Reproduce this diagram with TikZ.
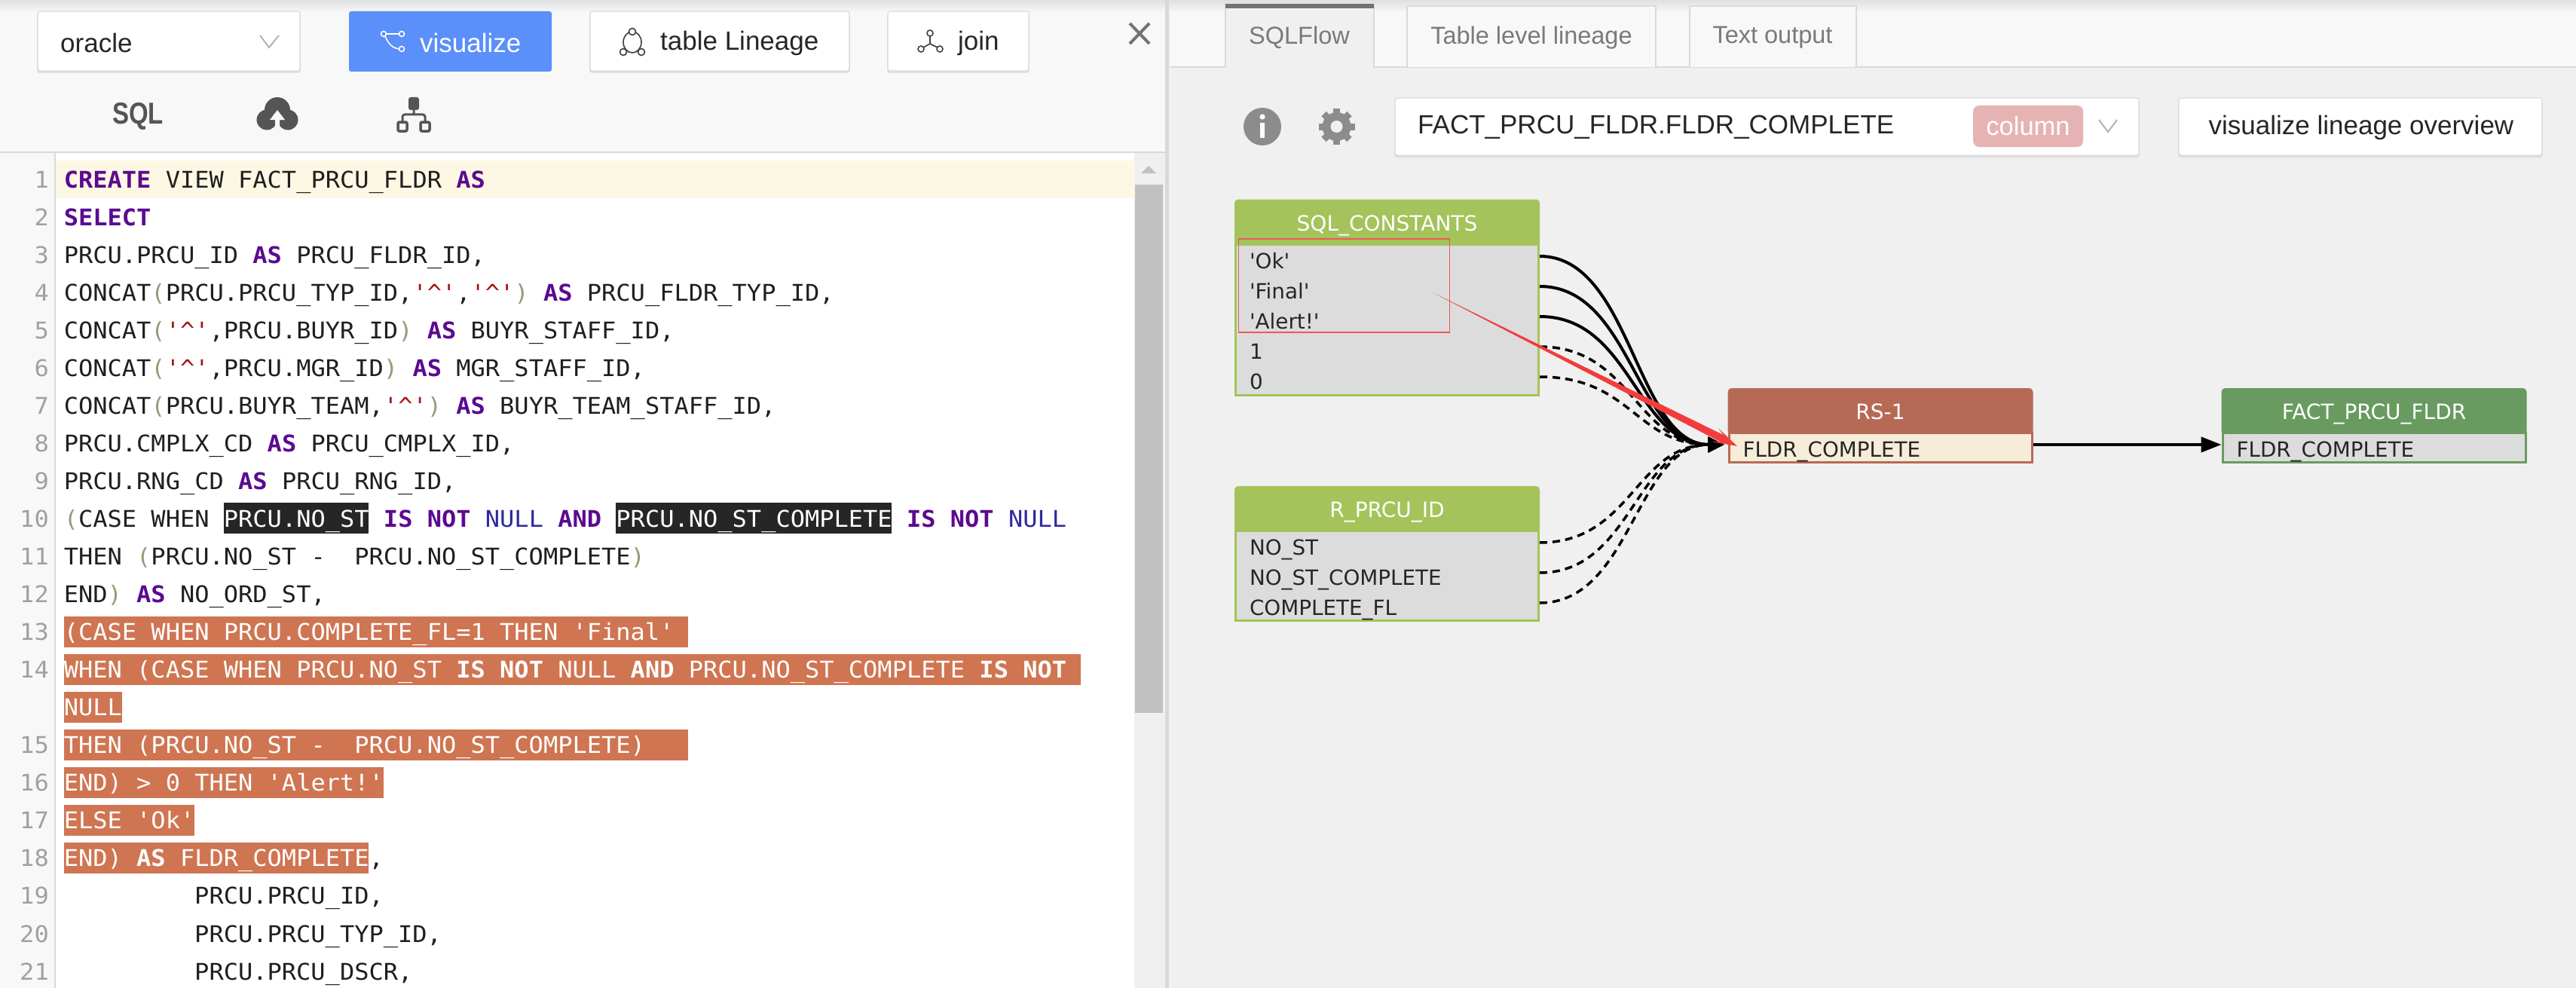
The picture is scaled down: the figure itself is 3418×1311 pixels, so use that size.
\documentclass[tikz,border=0pt]{standalone}
\usepackage{fontspec}
\setmainfont{Liberation Sans}
\newfontfamily\codef[FakeStretch=1.05]{DejaVu Sans Mono}
\newfontfamily\tblf{DejaVu Sans}
\usetikzlibrary{arrows.meta,calc}
\definecolor{panelL}{HTML}{F8F8F8}
\definecolor{panelR}{HTML}{F0F0F0}
\definecolor{rule}{HTML}{D9D9D9}
\definecolor{btnblue}{HTML}{5B8FF9}
\definecolor{iconk}{HTML}{555555}
\definecolor{lineone}{HTML}{FDF8E4}
\definecolor{thumb}{HTML}{C1C1C1}
\definecolor{orangehl}{HTML}{CF7552}
\definecolor{darkhl}{HTML}{262626}
\definecolor{ckey}{HTML}{5B0A91}
\definecolor{cnull}{HTML}{2E2A9E}
\definecolor{cparen}{HTML}{9A9A78}
\definecolor{cstring}{HTML}{A31515}
\definecolor{lnum}{HTML}{A0A0A0}
\definecolor{greenA}{HTML}{A4C35A}
\definecolor{greenB}{HTML}{699A60}
\definecolor{brownA}{HTML}{B66A55}
\definecolor{bodyg}{HTML}{DCDCDC}
\definecolor{rowcream}{HTML}{F6ECD8}
\definecolor{redmark}{HTML}{F23D3D}
\definecolor{redbox}{HTML}{E85A5A}
\definecolor{badge}{HTML}{E6B3B3}
\newcommand{\ckw}[1]{{\bfseries\color{ckey}#1}}
\newcommand{\cwb}[1]{{\bfseries #1}}
\newcommand{\cnul}{{\color{cnull}NULL}}
\newcommand{\cop}{{\color{cparen}(}}
\newcommand{\ccl}{{\color{cparen})}}
\newcommand{\cstr}{{\color{cstring}'\textasciicircum'}}
\newcommand{\rowy}[1]{(238+50.05*(#1-1))}
\newcommand{\colx}[1]{(84.6+19.27*#1)}
\newcommand{\codeln}[4][]{\node[codetext,#1] (code#2) at ({\colx{#3}},{\rowy{#2}+11}) {#4};}
\newcommand{\lineno}[2]{\node[numtext] (num#1) at (65,{\rowy{#1}+11}) {#2};}
\newcommand{\hlbar}[4]{\fill[#4] ({\colx{#2}},{\rowy{#1}-21}) rectangle ({\colx{#3}},{\rowy{#1}+20});}
\tikzset{
  btn/.style={draw=rule,line width=1.2pt,fill=white,rounded corners=3pt,outer sep=0pt,inner sep=0pt,
    preaction={draw=rule,line width=1.5pt,transform canvas={yshift=-2pt}}},
  uitext/.style={font=\fontsize{35}{40}\selectfont,text=black!85,inner sep=0pt,anchor=west},
  tabtext/.style={font=\fontsize{32.5}{38}\selectfont,text=black!52,inner sep=0pt},
  tabbox/.style={draw=rule,line width=1.2pt,fill=panelL},
  codetext/.style={font=\codef\fontsize{30.5}{36}\selectfont,text=black!88,inner sep=0pt,anchor=base west},
  numtext/.style={font=\codef\fontsize{30.5}{36}\selectfont,text=lnum,inner sep=0pt,anchor=base east},
  whitecode/.style={text=white},
  tblhead/.style={rounded corners=5pt,text=white,font=\tblf\fontsize{28}{32}\selectfont,
    minimum width=405pt,inner sep=0pt,outer sep=0pt,text height=26pt,text depth=6pt},
  tblbody/.style={line width=3pt,inner sep=0pt,outer sep=0pt,minimum width=402pt},
  rowtext/.style={font=\tblf\fontsize{27.8}{32}\selectfont,text=black!85,text width=365pt,
    inner xsep=20pt,inner ysep=0pt,outer sep=0pt,align=left,text height=36pt,text depth=3pt},
  solidflow/.style={draw=black,line width=4pt,-{Triangle[length=21pt,width=20pt]},shorten >=5pt,
    to path={.. controls ($(\tikztostart)+(122,0)$) and ($(\tikztotarget)+(-122,0)$) .. (\tikztotarget) \tikztonodes}},
  dashflow/.style={solidflow,line width=3.5pt,dash pattern=on 10pt off 7pt},
  chev/.style={draw=black!30,line width=2pt},
  iconline/.style={draw=black!75,line width=1.6pt}
}
\begin{document}
\begin{tikzpicture}[x=1pt,y=-1pt]
\useasboundingbox (0,0) rectangle (3418,1311);
% panels
\fill[panelL] (0,0) rectangle (1548,202);
\fill[panelR] (1548,0) rectangle (3418,1311);
\fill[panelL] (1552,0) rectangle (3418,89);
\shade[top color=black!12,bottom color=panelL] (0,0) rectangle (3418,16);
\fill[white] (74,203) rectangle (1505,1311);
\fill[panelL] (0,203) rectangle (73,1311);
\draw[rule,line width=1.5pt] (73,203) -- (73,1311);
\draw[rule,line width=2.5pt] (0,202) -- (1548,202);
\fill[rule] (1546,0) rectangle (1551,1311);
\fill[lineone] (74,213) rectangle (1505,263);
% scrollbar
\fill[panelR] (1505,203) rectangle (1546,1311);
\fill[thumb] (1506,245) rectangle (1543,946);
\fill[thumb] (1514,230) -- (1524,220) -- (1534,230) -- cycle;
% toolbar, left
\node[btn,minimum width=348pt,minimum height=79pt] (bOracle) at (224,54.5) {};
\node[uitext] (tOracle) at (80,57) {oracle};
\draw[chev] (345,47) -- (357,63) -- (370,47);
\node[rounded corners=3pt,fill=btnblue,minimum width=269pt,minimum height=80pt,inner sep=0pt] (bViz) at (597.5,55) {};
\node[uitext,text=white] (tViz) at (557,57) {visualize};
\draw[white,line width=1.6pt] (509,45) circle (3.5) (533,45) circle (3.5) (533,65) circle (3.5)
  (512.5,45) -- (529.5,45) (511,48) .. controls (516,60) and (522,64) .. (529.5,65);
\node[btn,minimum width=344pt,minimum height=79pt] (bTable) at (955,54.5) {};
\node[uitext] (tTable) at (876,57) {table Lineage};
\draw[iconline] (839,56) ellipse (12 and 14);
\fill[white] (839,42) circle (4.5) (827,69) circle (4.5) (851,69) circle (4.5);
\draw[iconline] (839,42) circle (4.5) (827,69) circle (4.5) (851,69) circle (4.5);
\node[btn,minimum width=187pt,minimum height=79pt] (bJoin) at (1271.5,54.5) {};
\node[uitext] (tJoin) at (1271,57) {join};
\draw[iconline] (1234,44) circle (4) (1222,65) circle (4) (1247,65) circle (4)
  (1234,48) -- (1234,58) -- (1225,63) (1234,58) -- (1244,63);
\draw[black!55,line width=4pt] (1499,31) -- (1525,58) (1525,31) -- (1499,58);
\node[font=\bfseries\fontsize{33}{36}\selectfont,text=iconk,inner sep=0pt,transform shape,yscale=1.22] (tSql) at (183,154) {SQL};
% cloud upload
\fill[iconk] (368,146) circle (17) (354,159) circle (13.5) (382,159) circle (13.5);
\fill[panelL] (368,146) -- (378,159) -- (371,159) -- (371,172.5) -- (365,172.5) -- (365,159) -- (358,159) -- cycle;
% hierarchy
\fill[iconk,rounded corners=3pt] (542,129) rectangle (556,146);
\draw[iconk,line width=3pt,rounded corners=3pt] (549,146) -- (549,152) (534,162) -- (534,152) -- (564,152) -- (564,162);
\draw[iconk,line width=3.5pt,rounded corners=2pt] (528,162) rectangle (540,174) (558,162) rectangle (570,174);
% code highlights
\hlbar{10}{11}{21}{darkhl}
\hlbar{10}{38}{57}{darkhl}
\hlbar{13}{0}{43}{orangehl}
\hlbar{14}{0}{70}{orangehl}
\hlbar{15}{0}{4}{orangehl}
\hlbar{16}{0}{43}{orangehl}
\hlbar{17}{0}{22}{orangehl}
\hlbar{18}{0}{9}{orangehl}
\hlbar{19}{0}{21}{orangehl}
% code
\lineno{1}{1}\lineno{2}{2}\lineno{3}{3}\lineno{4}{4}\lineno{5}{5}\lineno{6}{6}\lineno{7}{7}
\lineno{8}{8}\lineno{9}{9}\lineno{10}{10}\lineno{11}{11}\lineno{12}{12}\lineno{13}{13}\lineno{14}{14}
\lineno{16}{15}\lineno{17}{16}\lineno{18}{17}\lineno{19}{18}\lineno{20}{19}\lineno{21}{20}\lineno{22}{21}
\codeln{1}{0}{\ckw{CREATE} VIEW FACT\_PRCU\_FLDR \ckw{AS}}
\codeln{2}{0}{\ckw{SELECT}}
\codeln{3}{0}{PRCU.PRCU\_ID \ckw{AS} PRCU\_FLDR\_ID,}
\codeln{4}{0}{CONCAT\cop PRCU.PRCU\_TYP\_ID,\cstr,\cstr\ccl{} \ckw{AS} PRCU\_FLDR\_TYP\_ID,}
\codeln{5}{0}{CONCAT\cop\cstr,PRCU.BUYR\_ID\ccl{} \ckw{AS} BUYR\_STAFF\_ID,}
\codeln{6}{0}{CONCAT\cop\cstr,PRCU.MGR\_ID\ccl{} \ckw{AS} MGR\_STAFF\_ID,}
\codeln{7}{0}{CONCAT\cop PRCU.BUYR\_TEAM,\cstr\ccl{} \ckw{AS} BUYR\_TEAM\_STAFF\_ID,}
\codeln{8}{0}{PRCU.CMPLX\_CD \ckw{AS} PRCU\_CMPLX\_ID,}
\codeln{9}{0}{PRCU.RNG\_CD \ckw{AS} PRCU\_RNG\_ID,}
\codeln{10}{0}{\cop CASE WHEN \textcolor{white}{PRCU.NO\_ST} \ckw{IS} \ckw{NOT} \cnul{} \ckw{AND} \textcolor{white}{PRCU.NO\_ST\_COMPLETE} \ckw{IS} \ckw{NOT} \cnul}
\codeln{11}{0}{THEN \cop PRCU.NO\_ST -~~PRCU.NO\_ST\_COMPLETE\ccl}
\codeln{12}{0}{END\ccl{} \ckw{AS} NO\_ORD\_ST,}
\codeln[whitecode]{13}{0}{(CASE WHEN PRCU.COMPLETE\_FL=1 THEN 'Final'}
\codeln[whitecode]{14}{0}{WHEN (CASE WHEN PRCU.NO\_ST \cwb{IS} \cwb{NOT} NULL \cwb{AND} PRCU.NO\_ST\_COMPLETE \cwb{IS} \cwb{NOT}}
\codeln[whitecode]{15}{0}{NULL}
\codeln[whitecode]{16}{0}{THEN (PRCU.NO\_ST -~~PRCU.NO\_ST\_COMPLETE)}
\codeln[whitecode]{17}{0}{END) > 0 THEN 'Alert!'}
\codeln[whitecode]{18}{0}{ELSE 'Ok'}
\codeln{19}{0}{\textcolor{white}{END) \cwb{AS} FLDR\_COMPLETE},}
\codeln{20}{9}{PRCU.PRCU\_ID,}
\codeln{21}{9}{PRCU.PRCU\_TYP\_ID,}
\codeln{22}{9}{PRCU.PRCU\_DSCR,}
% tabs
\draw[rule,line width=2pt] (1552,89) -- (3418,89);
\draw[tabbox,fill=panelR] (1626,89) -- (1626,6) -- (1823,6) -- (1823,89);
\fill[black!55] (1626,5) rectangle (1823,11);
\fill[panelR] (1627,88) rectangle (1822,91);
\draw[tabbox] (1867,89) -- (1867,8) -- (2197,8) -- (2197,89);
\draw[tabbox] (2242,89) -- (2242,8) -- (2463,8) -- (2463,89);
\node[tabtext] (tabA) at (1724,50) {SQLFlow};
\node[tabtext] (tabB) at (2032,50) {Table level lineage};
\node[tabtext] (tabC) at (2352,50) {Text output};
% info and gear
\fill[black!45] (1675,168) circle (25);
\fill[white] (1675,155) circle (3.6);
\fill[white] (1672,163) rectangle (1678,183);
\foreach \a in {0,45,...,315} {\draw[black!45,line width=9pt] (1773.5,168) ++(\a:12) -- ++(\a:12);}
\fill[black!45] (1773.5,168) circle (19);
\fill[panelR] (1773.5,168) circle (8);
% selector
\node[btn,minimum width=987pt,minimum height=76pt] (bCol) at (2344.5,168) {};
\node[uitext] (tCol) at (1881,169) {FACT\_PRCU\_FLDR.FLDR\_COMPLETE};
\node[fill=badge,rounded corners=8pt,minimum width=146pt,minimum height=55pt,inner sep=0pt,
  text=white,font=\fontsize{34.5}{38}\selectfont] (badgeCol) at (2691,167.5) {column};
\draw[chev] (2785,159) -- (2797,175) -- (2809,159);
\node[btn,minimum width=482pt,minimum height=76pt] (bOver) at (3132,168) {};
\node[uitext,anchor=center] (tOver) at (3133,169) {visualize lineage overview};
% SQL_CONSTANTS
\node[tblhead,fill=greenA,minimum height=63pt] (sqlHead) at (1840.5,296) {SQL\_CONSTANTS};
\node[tblbody,draw=greenA,fill=bodyg,minimum height=200pt] (sqlBody) at (1840.5,424) {};
\node[rowtext] (ok) at (1840.5,340) {'Ok'};
\node[rowtext] (final) at (1840.5,380) {'Final'};
\node[rowtext] (alert) at (1840.5,420) {'Alert!'};
\node[rowtext] (one) at (1840.5,460) {1};
\node[rowtext] (zero) at (1840.5,500) {0};
% R_PRCU_ID
\node[tblhead,fill=greenA,minimum height=62pt] (prcuHead) at (1840.5,676) {R\_PRCU\_ID};
\node[tblbody,draw=greenA,fill=bodyg,minimum height=119pt] (prcuBody) at (1840.5,764) {};
\node[rowtext] (nost) at (1840.5,720) {NO\_ST};
\node[rowtext] (nostc) at (1840.5,760) {NO\_ST\_COMPLETE};
\node[rowtext] (compfl) at (1840.5,800) {COMPLETE\_FL};
% RS-1
\node[tblhead,fill=brownA,minimum height=62pt] (rsHead) at (2495,546) {RS-1};
\node[tblbody,draw=brownA,fill=rowcream,minimum height=39pt] (rsBody) at (2495,594) {};
\node[rowtext] (rsrow) at (2495,590) {FLDR\_COMPLETE};
% FACT_PRCU_FLDR
\node[tblhead,fill=greenB,minimum height=62pt] (factHead) at (3150,546) {FACT\_PRCU\_FLDR};
\node[tblbody,draw=greenB,fill=bodyg,minimum height=39pt] (factBody) at (3150,594) {};
\node[rowtext] (factrow) at (3150,590) {FLDR\_COMPLETE};
% connectors
\draw[dashflow] (one.east) to (rsrow.west);
\draw[dashflow] (zero.east) to (rsrow.west);
\draw[dashflow] (nost.east) to (rsrow.west);
\draw[dashflow] (nostc.east) to (rsrow.west);
\draw[dashflow] (compfl.east) to (rsrow.west);
\draw[solidflow] (ok.east) to (rsrow.west);
\draw[solidflow] (final.east) to (rsrow.west);
\draw[solidflow] (alert.east) to (rsrow.west);
\draw[draw=black,line width=4pt,-{Triangle[length=27pt,width=20pt]}] (rsrow.east) -- (factrow.west);
% red annotation
\draw[redbox,line width=1.2pt] (1643.5,317) rectangle (1923.5,441);
\fill[redmark] (1900.6,388) -- (2286.4,577) -- (2279.7,568) -- (2305,592) -- (2270.7,586) -- (2282,586) -- cycle;
\end{tikzpicture}
\end{document}
